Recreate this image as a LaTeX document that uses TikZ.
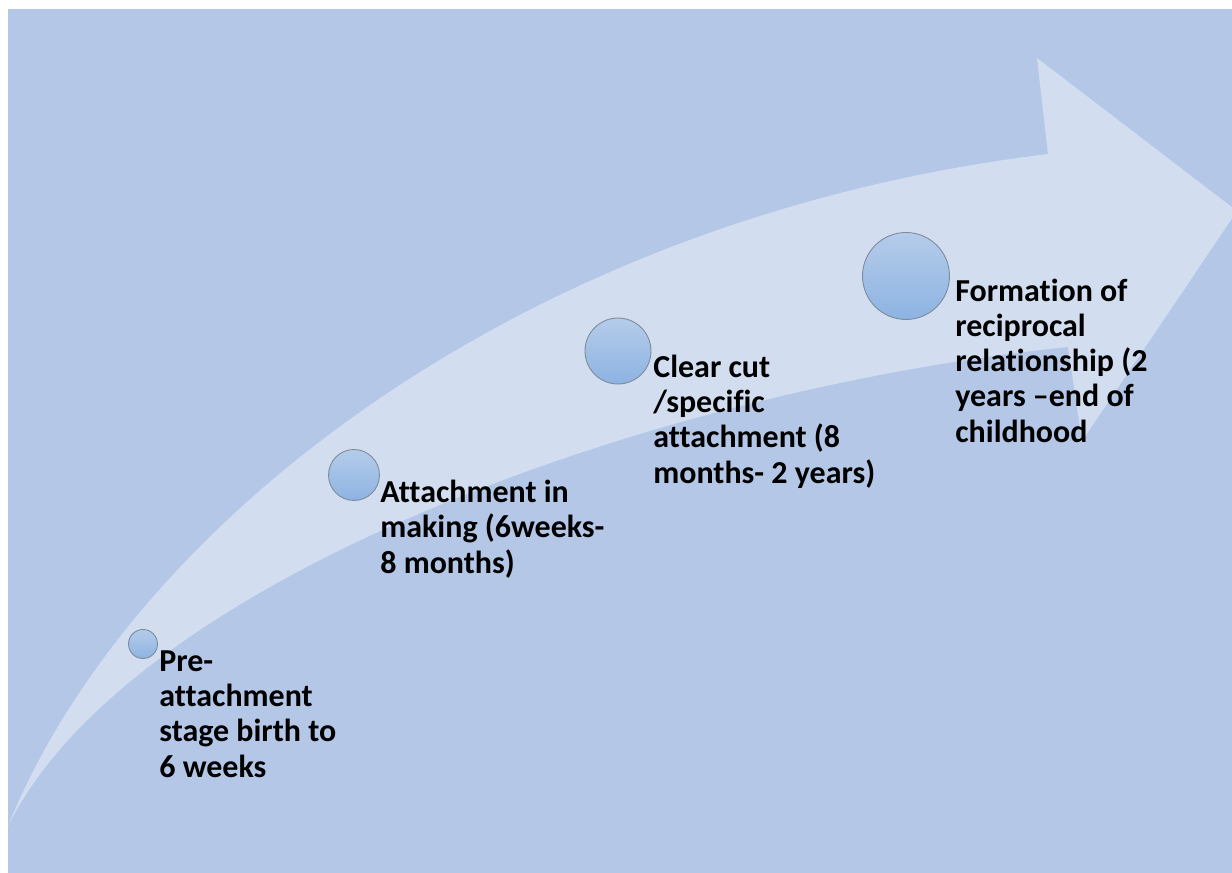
\documentclass[tikz,border=0pt]{standalone}
\usepackage{fontspec}
\setmainfont{Carlito}[Ligatures=NoCommon]
\usepackage{tikz}
\usetikzlibrary{shapes,arrows,positioning,calc}

\definecolor{bgblue}{HTML}{B4C7E7}
\definecolor{arrowblue}{HTML}{D2DEEF}
\definecolor{ballrim}{HTML}{7D8A99}
\definecolor{balltop}{HTML}{B5CCEA}
\definecolor{ballbottom}{HTML}{8DB3E2}
\tikzset{
  ball/.style={circle,draw=ballrim,line width=0.5pt,inner sep=0pt,
    top color=balltop,bottom color=ballbottom},
  stagetext/.style={anchor=base west,align=left,inner sep=0pt,
    font=\bfseries\fontsize{18.2}{20}\selectfont}
}

\begin{document}
\begin{tikzpicture}[x=0.02cm,y=-0.02cm]
\useasboundingbox (0,0) rectangle (1232,873);
\clip (0,0) rectangle (1232,873);
\fill[bgblue] (8,9) rectangle (1232,873);
% big curved arrow
\fill[arrowblue] (8,826) .. controls (130,525) and (520,218) .. (1048,154)
  -- (1037,58) -- (1237,211) -- (1082,441) -- (1068,347)
  .. controls (650,390) and (130,580) .. (8,826) -- cycle;
% stages (text nodes sit on the baseline of their last line)
\node[ball,minimum size=0.58cm] (c1) at (143,644) {};
\node[ball,minimum size=1.02cm] (c2) at (354,475) {};
\node[ball,minimum size=1.32cm] (c3) at (618,351) {};
\node[ball,minimum size=1.74cm] (c4) at (906,276) {};
\node[stagetext] (t1) at (159,777) {Pre-\\attachment\\stage birth to\\6 weeks};
\node[stagetext] (t2) at (380,573) {Attachment in\\making (6weeks-\\8 months)};
\node[stagetext] (t3) at (653,483) {Clear cut\\/specific\\attachment (8\\months- 2 years)};
\node[stagetext] (t4) at (955,442) {Formation of\\reciprocal\\relationship (2\\years –end of\\childhood};
\end{tikzpicture}
\end{document}
